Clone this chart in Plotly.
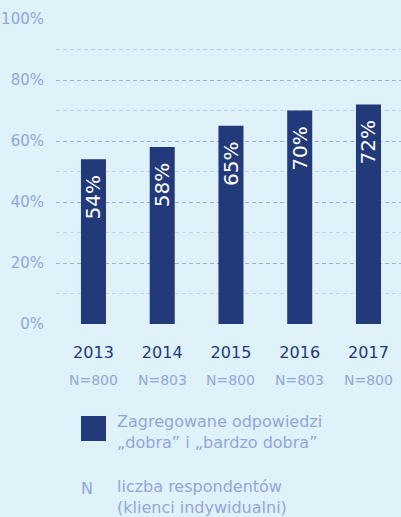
import plotly.graph_objects as go

years = ["2013", "2014", "2015", "2016", "2017"]
values = [54, 58, 65, 70, 72]
n_labels = ["N=800", "N=803", "N=800", "N=803", "N=800"]
y_ticks = [0, 20, 40, 60, 80, 100]
y_ticktext = ["0%", "20%", "40%", "60%", "80%", "100%"]
legend_series = "Zagregowane odpowiedzi<br>„dobra” i „bardzo dobra”"
legend_n_key = "N"
legend_n_text = "liczba respondentów<br>(klienci indywidualni)"

BG = "#dff1f9"
NAVY = "#22397a"
LIGHT = "#93a6da"
FONT = "DejaVu Sans"

xs = list(range(len(years)))

W, H = 401, 517
L, R, T, B = 56, 0, 19, 193
pw, ph = W - L - R, H - T - B


def px_x(x):
    return (x - L) / pw


def px_y(y):
    return (H - y - B) / ph


fig = go.Figure()
fig.add_trace(go.Bar(
    x=xs, y=values, width=0.364,
    marker=dict(color=NAVY, line=dict(width=0)),
    text=[f"{v}%  " for v in values],
    textposition="inside", insidetextanchor="end", textangle=-90,
    textfont=dict(color="white", size=20, family=FONT),
    constraintext="none",
    hoverinfo="skip",
))

annotations = []
for i, n in enumerate(n_labels):
    annotations.append(dict(x=i, y=0, xref="x", yref="y", yshift=-56,
                            text=n, showarrow=False,
                            font=dict(size=14, color=LIGHT, family=FONT)))
annotations.append(dict(x=px_x(115), y=px_y(432), xref="paper", yref="paper", text=legend_series,
                        showarrow=False, xanchor="left", yanchor="middle", align="left",
                        font=dict(size=16, color=LIGHT, family=FONT)))
annotations.append(dict(x=px_x(79), y=px_y(488), xref="paper", yref="paper", text=legend_n_key,
                        showarrow=False, xanchor="left", yanchor="middle",
                        font=dict(size=16, color=LIGHT, family=FONT)))
annotations.append(dict(x=px_x(115), y=px_y(497), xref="paper", yref="paper", text=legend_n_text,
                        showarrow=False, xanchor="left", yanchor="middle", align="left",
                        font=dict(size=16, color=LIGHT, family=FONT)))

shapes = [dict(type="rect", xref="paper", yref="paper",
               x0=px_x(81), x1=px_x(106), y0=px_y(441), y1=px_y(416),
               fillcolor=NAVY, line=dict(width=0))]

fig.update_layout(
    width=W, height=H,
    margin=dict(l=L, r=R, t=T, b=B, pad=0),
    paper_bgcolor=BG, plot_bgcolor=BG,
    showlegend=False,
    font=dict(family=FONT),
    xaxis=dict(range=[-0.545, 4.473], tickvals=xs, ticktext=years,
               tickfont=dict(size=16, color=NAVY, family=FONT),
               showgrid=False, zeroline=False, showline=False,
               ticks="outside", ticklen=14, tickcolor="rgba(0,0,0,0)", fixedrange=True),
    yaxis=dict(range=[0, 100], tickvals=y_ticks, ticktext=y_ticktext,
               tickfont=dict(size=15, color=LIGHT, family=FONT),
               showgrid=True, gridcolor="#9eaedb", griddash="4px,3px", gridwidth=1,
               zeroline=False, showline=False,
               ticks="outside", ticklen=8, tickcolor="rgba(0,0,0,0)",
               minor=dict(dtick=10, tick0=0, showgrid=True, gridcolor="#c4d2ec",
                          griddash="4px,3px", gridwidth=1),
               fixedrange=True),
    annotations=annotations,
    shapes=shapes,
    bargap=0.6,
)

fig.write_html("out.html", config={"displayModeBar": False},
               post_script="document.body.style.margin='0';document.body.style.overflow='hidden';")
